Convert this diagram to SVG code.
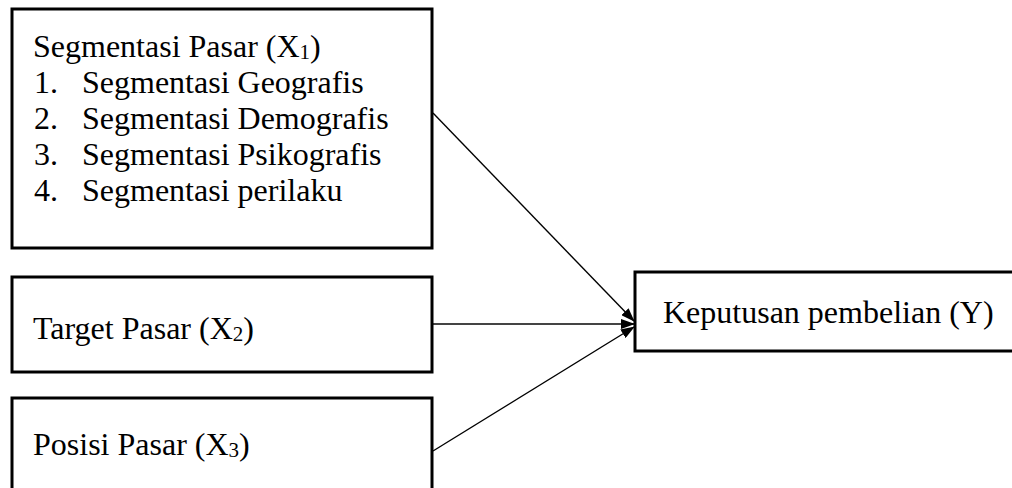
<svg xmlns="http://www.w3.org/2000/svg" width="1012" height="488" viewBox="0 0 1012 488">
<style>
.box{fill:#fff;stroke:#000;stroke-width:3}
.t{font-family:"Liberation Serif","Times New Roman",serif;font-size:32px;fill:#000}
.sub{font-size:21px}
.con{stroke:#000;stroke-width:1.4;fill:none;marker-end:url(#ah)}
</style>
<defs>
<marker id="ah" viewBox="0 0 14 10" refX="13" refY="5" markerWidth="14" markerHeight="10" markerUnits="userSpaceOnUse" orient="auto">
<path d="M0,0 L14,5 L0,10 Z" fill="#000"/>
</marker>
</defs>
<rect width="1012" height="488" fill="#fff"/>
<g id="connectors">
<line class="con" x1="433" y1="113" x2="634" y2="321"/>
<line class="con" x1="433" y1="324" x2="634" y2="324" style="stroke:#444;stroke-width:2"/>
<line class="con" x1="433" y1="451" x2="634" y2="327"/>
</g>
<g id="x1">
<rect class="box" x="12" y="9" width="420" height="239"/>
<text class="t" x="33" y="57">Segmentasi Pasar (X<tspan class="sub" dy="2">1</tspan><tspan dy="-2">)</tspan></text>
<text class="t" x="34" y="93">1.</text><text class="t" x="82" y="93">Segmentasi Geografis</text>
<text class="t" x="34" y="129">2.</text><text class="t" x="82" y="129">Segmentasi Demografis</text>
<text class="t" x="34" y="165">3.</text><text class="t" x="82" y="165">Segmentasi Psikografis</text>
<text class="t" x="34" y="201">4.</text><text class="t" x="82" y="201">Segmentasi perilaku</text>
</g>
<g id="x2">
<rect class="box" x="12" y="277" width="420" height="95"/>
<text class="t" x="33" y="339">Target Pasar (X<tspan class="sub" dy="2">2</tspan><tspan dy="-2">)</tspan></text>
</g>
<g id="x3">
<rect class="box" x="12" y="398" width="420" height="96"/>
<text class="t" x="33" y="455">Posisi Pasar (X<tspan class="sub" dy="2">3</tspan><tspan dy="-2">)</tspan></text>
</g>
<g id="y">
<rect class="box" x="635" y="272" width="380" height="79"/>
<text class="t" x="663" y="323">Keputusan pembelian (Y)</text>
</g>
</svg>
